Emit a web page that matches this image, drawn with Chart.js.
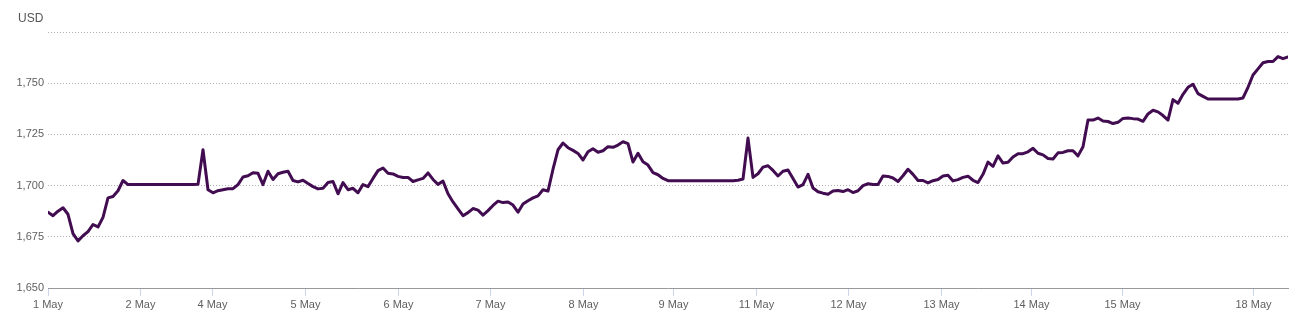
<!DOCTYPE html>
<html>
<head>
<meta charset="utf-8">
<script src="https://cdn.jsdelivr.net/npm/chart.js@4.4.1/dist/chart.umd.min.js"></script>
<style>
  html, body { margin: 0; padding: 0; background: #ffffff; }
  #wrap { position: relative; width: 1311px; height: 329px; }
</style>
</head>
<body>
<div id="wrap"><canvas id="c" width="1311" height="329"></canvas></div>
<script>
// Price series (USD), sampled at equal steps along the trading timeline
const prices = [
  1687,1685.3,1687.5,1689.2,1686,1676.5,1673,1675.5,1677.5,1681,
  1679.8,1684.5,1694,1694.7,1697.5,1702.5,1700.5,1700.5,1700.5,1700.5,
  1700.5,1700.5,1700.5,1700.5,1700.5,1700.5,1700.5,1700.5,1700.5,1700.5,
  1700.6,1717.5,1698,1696.5,1697.5,1698,1698.5,1698.5,1700.5,1704.2,
  1704.8,1706.3,1706,1700.5,1707,1703,1705.8,1706.5,1707,1702.5,
  1701.8,1702.6,1701,1699.5,1698.4,1698.7,1701.5,1702,1696,1701.5,
  1698,1698.7,1696.5,1700.5,1699.5,1703.5,1707.3,1708.6,1706,1705.7,
  1704.5,1704,1704,1702,1702.8,1703.5,1706.2,1703,1700.6,1702.2,
  1696,1692,1688.6,1685.3,1686.8,1688.8,1688,1685.6,1687.8,1690.3,
  1692.4,1691.7,1692,1690.5,1687,1691,1692.6,1694,1695,1698,
  1697.3,1708,1717.5,1720.8,1718.5,1717.2,1715.7,1712.5,1716.5,1718,
  1716.3,1717,1719,1718.7,1719.8,1721.4,1720.5,1711.5,1715.8,1711.6,
  1710,1706.3,1705.3,1703.5,1702.4,1702.4,1702.4,1702.4,1702.4,1702.4,
  1702.4,1702.4,1702.4,1702.4,1702.4,1702.4,1702.4,1702.4,1702.6,1703.2,
  1723.2,1704,1705.8,1709,1709.7,1707.4,1704.7,1707,1707.6,1703.5,
  1699.3,1700.5,1705.5,1698.8,1697,1696.3,1695.8,1697.4,1697.6,1697.1,
  1698,1696.6,1697.5,1700,1700.9,1700.5,1700.5,1704.7,1704.5,1703.7,
  1702,1704.8,1708,1705.5,1702.5,1702.5,1701.3,1702.4,1703,1704.7,
  1705,1702.3,1702.9,1704,1704.6,1702.6,1701.5,1705.5,1711.5,1709.4,
  1714.5,1711,1711.4,1714,1715.6,1715.6,1716.5,1718.2,1715.8,1715,
  1713.2,1713,1716,1716.2,1717,1717,1714.5,1719,1732,1732,
  1733,1731.5,1731.3,1730.3,1730.9,1732.8,1733,1732.7,1732.5,1731.4,
  1735,1736.8,1736,1734.2,1732,1742,1740.2,1744.6,1748,1749.5,
  1744.9,1743.6,1742.3,1742.3,1742.3,1742.3,1742.3,1742.3,1742.3,1742.8,
  1748,1754,1757,1760,1760.6,1760.6,1763,1762,1762.8
];

// Day labels and the sample index at which each day begins
const dayLabels = ['1 May','2 May','4 May','5 May','6 May','7 May','8 May','9 May','11 May','12 May','13 May','14 May','15 May','18 May'];
const dayIndex  = [0, 18.5, 32.9, 51.5, 70.1, 88.5, 107.1, 125.1, 141.7, 160.1, 178.7, 196.7, 214.9, 241.1];

// Y axis
const yMin = 1650, yMax = 1775, yStep = 25;
const yUnit = 'USD';

const points = prices.map((v, i) => ({ x: i, y: v }));

const FONT = '"Liberation Sans", Arial, Helvetica, sans-serif';

const unitLabel = {
  id: 'unitLabel',
  afterDraw(chart) {
    const ctx = chart.ctx;
    ctx.save();
    ctx.font = '12px ' + FONT;
    ctx.fillStyle = '#555555';
    ctx.textAlign = 'left';
    ctx.textBaseline = 'middle';
    ctx.fillText(yUnit, 18, 18.5);
    ctx.restore();
  }
};

new Chart(document.getElementById('c'), {
  type: 'line',
  data: {
    datasets: [{
      data: points,
      borderColor: '#420c51',
      borderWidth: 3,
      pointRadius: 0,
      tension: 0,
      fill: false,
      borderJoinStyle: 'round',
      borderCapStyle: 'round'
    }]
  },
  options: {
    responsive: false,
    animation: false,
    layout: { padding: { left: 0, right: 23, top: 32, bottom: 0 } },
    plugins: { legend: { display: false }, tooltip: { enabled: false }, title: { display: false } },
    scales: {
      x: {
        type: 'linear',
        min: 0,
        max: prices.length - 1,
        afterFit(scale) { scale.height = 41; },
        afterBuildTicks(scale) { scale.ticks = dayIndex.map(v => ({ value: v })); },
        ticks: {
          autoSkip: false,
          maxRotation: 0,
          padding: 2,
          color: '#606060',
          font: { family: FONT, size: 11 },
          callback: (value, index) => dayLabels[index]
        },
        grid: {
          drawOnChartArea: false,
          drawTicks: true,
          tickLength: 8,
          color: '#ccd6eb',
          lineWidth: 1
        },
        border: { display: true, color: '#999999', width: 1 }
      },
      y: {
        min: yMin,
        max: yMax,
        afterFit(scale) { scale.width = 48; },
        ticks: {
          stepSize: yStep,
          padding: 4,
          color: '#606060',
          font: { family: FONT, size: 11 },
          callback: (v) => v === yMax ? '' : v.toLocaleString('en-US')
        },
        grid: {
          drawTicks: false,
          color: (c) => c.tick && c.tick.value === yMin ? 'rgba(0,0,0,0)' : '#b0b0b0',
          lineWidth: 1
        },
        border: { display: false, dash: [1, 2] }
      }
    }
  },
  plugins: [unitLabel]
});
</script>
</body>
</html>
